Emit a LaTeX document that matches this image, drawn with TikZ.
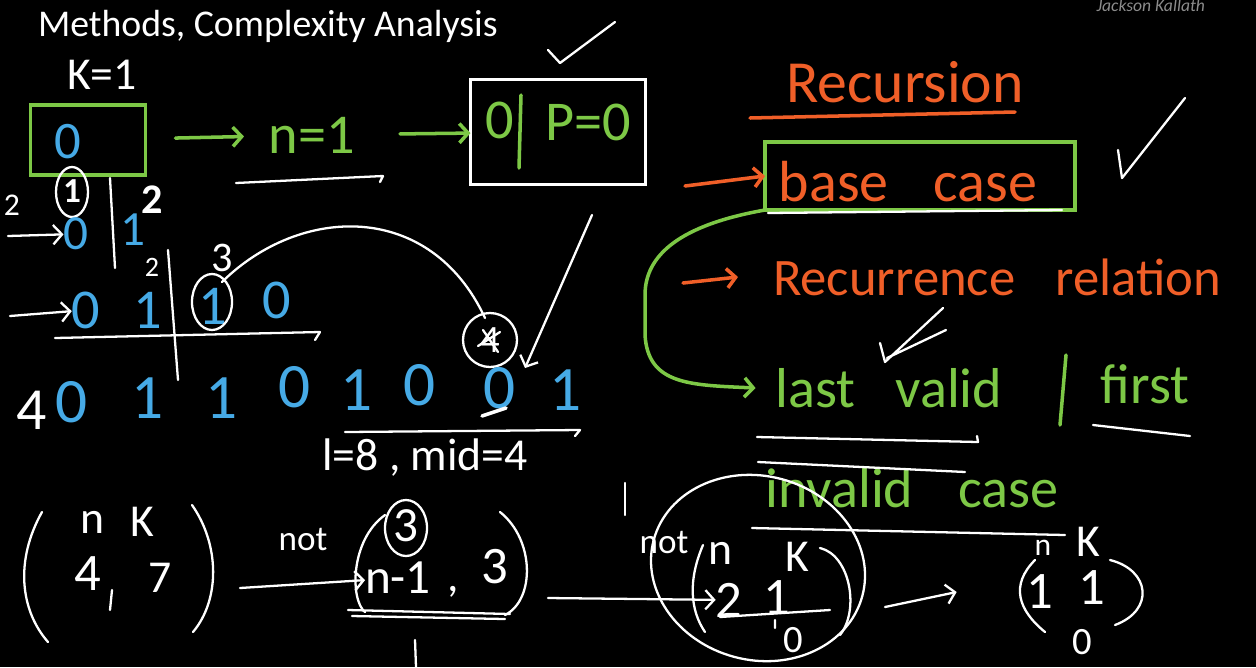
\documentclass[tikz,border=0pt]{standalone}
\usepackage{fontspec}
\setmainfont{Carlito}
\usetikzlibrary{arrows.meta, positioning, shapes.geometric}
\definecolor{hgreen}{RGB}{125,200,70}
\definecolor{hblue}{RGB}{70,170,230}
\definecolor{horange}{RGB}{240,95,40}
\newcommand{\handfs}[1]{\fontsize{#1}{#1}\selectfont}

\begin{document}
\begin{tikzpicture}[
  x=0.02cm, y=-0.02cm,
  every node/.style={inner sep=0pt, outer sep=0pt},
  wtxt/.style={text=white, font=\handfs{26}},
  btxt/.style={text=hblue, font=\handfs{32}},
  gtxt/.style={text=hgreen, font=\handfs{32}},
  otxt/.style={text=horange, font=\handfs{32}},
  wpen/.style={draw=white, line width=1.3pt, line cap=round, line join=round},
  gpen/.style={draw=hgreen, line width=2pt, line cap=round, line join=round},
  opn/.style={draw=horange, line width=2pt, line cap=round, line join=round},
  tip/.style={-{Straight Barb[length=5pt, width=11pt]}}
]

%% board
\useasboundingbox (0,0) rectangle (1256,667);
\fill[black] (0,0) rectangle (1256,667);

%% title and watermark
\node[anchor=west, text=white, font=\handfs{21.5}] (title) at (38,26) {Methods, Complexity Analysis};
\node[anchor=east, text=white!55!black, font=\handfs{10}\itshape] (mark) at (1205,5) {Jackson Kallath};

%% top row: K=1 box -> n=1 -> 0|P=0
\node[wtxt] (kone) at (102,75) {K=1};
\node[draw=hgreen, line width=2pt, minimum width=2.3cm, minimum height=1.4cm] (zbox) at (88,140) {};
\node[btxt, font=\handfs{30}] (zzero) at (68,142) {0};
\node[gtxt] (none) at (312,135) {n=1};
\node[draw=white, line width=1.3pt, minimum width=3.5cm, minimum height=2.1cm] (pbox) at (558,132) {};
\node[gtxt] (pzero) at (500,120) {0};
\node[gtxt] (peq) at (588,122) {P=0};
\draw[gpen] (521,95) -- (519,168);
\draw[gpen, tip, shorten <=0.6cm, shorten >=0.5cm] (zbox) -- (none);
\draw[gpen, tip, shorten <=0.9cm] (none) -- (pbox);
\draw[wpen] (236,183) -- (383,176) -- (380,182);
\draw[wpen] (548,50) -- (560,63) -- (615,22);

%% second row
\draw[wpen] (72,192) ellipse [x radius=16, y radius=25];
\node[wtxt, font=\handfs{20}\bfseries] (cone) at (72,191) {1};
\node[wtxt, font=\handfs{18}] (ltwo) at (12,205) {2};
\coordinate (la) at (8,236);
\node[btxt, font=\handfs{28}] (rzero) at (76,234) {0};
\node[btxt, font=\handfs{28}] (rone) at (133,230) {1};
\node[wtxt, font=\handfs{24}\bfseries] (rtwo) at (152,200) {2};
\draw[wpen, tip] (la) -- (rzero);
\draw[wpen] (110,178) -- (115,268);

%% third row
\coordinate (lb) at (10,316);
\node[btxt] (szero) at (86,310) {0};
\node[btxt] (sone) at (148,310) {1};
\node[wtxt, font=\handfs{16}] (stwo) at (152,267) {2};
\node[wtxt, font=\handfs{24}] (sthree) at (222,258) {3};
\node[btxt] (sonec) at (213,306) {1};
\draw[wpen] (212,302) ellipse [x radius=20, y radius=28];
\node[btxt] (sztwo) at (277,300) {0};
\draw[wpen, tip] (lb) -- (szero);
\draw[wpen] (168,250) -- (178,380);
\draw[wpen] (55,338) -- (320,332) -- (315,340);

%% hop to the struck 4
\node[wtxt, font=\handfs{22}] (four) at (490,340) {4};
\draw[wpen] (490,340) circle [radius=27];
\draw[wpen] (478,346) -- (500,332) (483,330) -- (498,352);
\draw[wpen] (222,282) .. controls (300,205) and (430,200) .. (485,318);
\coordinate (chk) at (592,215);
\draw[wpen, tip] (chk) -- (525,368);

%% fourth row
\node[wtxt, font=\handfs{34}] (nfour) at (32,410) {4};
\foreach \d/\x/\y [count=\i] in {0/72/402, 1/148/398, 1/222/398, 0/295/387, 1/357/390, 0/420/385, 0/500/388, 1/566/390}
  \node[btxt, font=\handfs{36}] (bit\i) at (\x,\y) {\d};
\draw[wpen, line width=2pt] (482,416) -- (506,408);
\draw[wpen] (345,432) -- (580,430) -- (575,436);
\node[wtxt] (lmid) at (425,458) {l=8 , mid=4};

%% recursion notes
\node[otxt, font=\handfs{34}] (rec) at (905,82) {Recursion};
\draw[opn] (750,118) -- (1015,112);
\node[draw=hgreen, line width=2pt, minimum width=6.2cm, minimum height=1.36cm] (basebox) at (920,176) {};
\node[otxt, font=\handfs{33}] (base) at (908,182) {base\hspace{0.9cm}case};
\draw[wpen] (768,213) -- (1062,210);
\coordinate (ba) at (685,186);
\draw[opn, tip] (ba) -- (basebox.west);
\draw[wpen] (1118,150) -- (1122,178) -- (1185,98);

\coordinate (rb) at (683,283);
\node[otxt, font=\handfs{30}] (recrel) at (997,277) {Recurrence\hspace{0.8cm}relation};
\draw[opn, tip] (rb) -- ([xshift=-0.7cm]recrel.west);
\draw[wpen] (880,343) -- (885,362) -- (943,308) (887,358) -- (946,330);

\node[gtxt] (lastv) at (889,388) {last\hspace{0.8cm}valid};
\draw[gpen] (1066,355) -- (1060,425);
\node[gtxt] (first) at (1145,384) {first};
\draw[gpen, tip] (basebox.south west) .. controls (680,225) and (645,255) .. (645,295)
  -- (645,335) .. controls (648,385) and (690,385) .. ([xshift=-0.4cm]lastv.west);
\draw[wpen] (757,437) -- (978,442) -- (977,436);
\draw[wpen] (1093,425) -- (1190,436);
\node[gtxt] (inval) at (912,488) {invalid\hspace{0.9cm}case};
\draw[wpen] (758,462) -- (965,472);

%% bottom row: (4,7) -> (n-1,3) -> (2,1) -> (1,1)
\draw[wpen] (42,512) .. controls (15,560) and (20,610) .. (48,642);
\node[wtxt] (bn) at (92,522) {n};
\node[wtxt] (bk) at (142,522) {K};
\node[wtxt, font=\handfs{30}] (bfour) at (88,574) {4};
\node[wtxt] (bsev) at (160,578) {7};
\draw[wpen] (112,590) -- (110,610);
\draw[wpen] (192,505) .. controls (220,545) and (220,600) .. (193,632);
\node[wtxt, font=\handfs{20}] (notA) at (303,540) {not};
\coordinate (ga) at (240,588);

\node[wtxt, font=\handfs{28}] (cthree) at (406,526) {3};
\draw[wpen] (406,528) ellipse [x radius=21, y radius=28];
\node[wtxt, font=\handfs{28}] (nmone) at (398,578) {n-1};
\node[wtxt] (ncomma) at (453,592) {,};
\node[wtxt, font=\handfs{30}] (nthree) at (495,567) {3};
\draw[wpen] (385,515) .. controls (350,540) and (350,600) .. (365,612);
\draw[wpen] (500,512) .. controls (535,540) and (535,600) .. (505,615);
\draw[wpen] (348,610) -- (510,614) (352,616) -- (505,619);
\draw[wpen, tip] (ga) -- (nmone);
\draw[wpen] (415,640) -- (416,667);
\draw[wpen] (625,483) -- (625,515);

\node[wtxt, font=\handfs{20}] (notB) at (664,543) {not};
\draw[wpen] (758,568) ellipse [x radius=108, y radius=92, rotate=-15];
\draw[wpen] (703,545) .. controls (688,580) and (690,610) .. (705,632);
\node[wtxt] (cn) at (720,553) {n};
\node[wtxt] (ck) at (797,557) {K};
\node[wtxt, font=\handfs{30}] (ctwo) at (729,600) {2};
\node[wtxt, font=\handfs{30}] (cone2) at (777,598) {1};
\node[wtxt, font=\handfs{22}] (czero) at (793,640) {0};
\draw[wpen] (720,617) -- (830,610) (775,620) -- (775,628);
\draw[wpen] (820,548) .. controls (850,555) and (860,610) .. (840,635);
\coordinate (gb) at (548,598);
\draw[wpen, tip] (gb) -- (ctwo);

\node[wtxt] (dk) at (1088,542) {K};
\node[wtxt, font=\handfs{18}] (dn) at (1043,548) {n};
\node[wtxt, font=\handfs{30}] (done) at (1040,592) {1};
\node[wtxt, font=\handfs{30}] (dtwo) at (1092,588) {1};
\node[wtxt, font=\handfs{22}] (dzero) at (1082,642) {0};
\draw[wpen] (1035,560) .. controls (1010,585) and (1018,610) .. (1045,632);
\draw[wpen] (1110,560) .. controls (1150,570) and (1155,610) .. (1115,625);
\coordinate (gc) at (885,607);
\draw[wpen, tip] (gc) -- ([xshift=-1.4cm]done.west);
\draw[wpen] (752,528) -- (1065,535);
\end{tikzpicture}
\end{document}
